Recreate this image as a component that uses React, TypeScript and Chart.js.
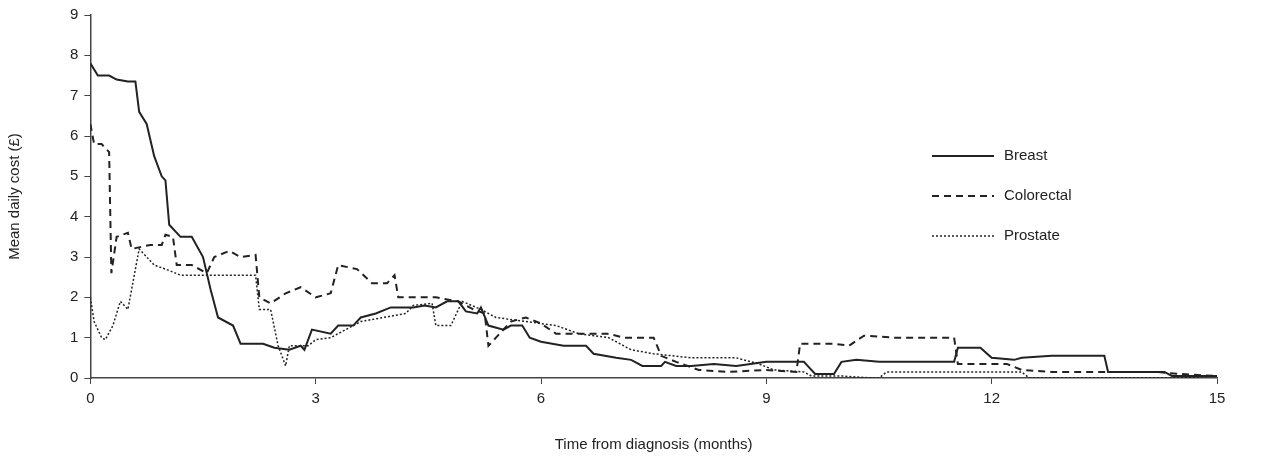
import { useEffect, useRef } from 'react';
import { Chart, registerables } from 'chart.js';

Chart.register(...registerables);

const breastX = [0, 0.1, 0.25, 0.35, 0.5, 0.6, 0.65, 0.75, 0.85, 0.95, 1.0, 1.05, 1.2, 1.35, 1.5, 1.6, 1.7, 1.9, 2.0, 2.3, 2.45, 2.65, 2.8, 2.85, 2.95, 3.2, 3.3, 3.5, 3.6, 3.8, 4.0, 4.3, 4.45, 4.6, 4.75, 4.9, 5.0, 5.15, 5.2, 5.3, 5.5, 5.6, 5.75, 5.85, 6.0, 6.3, 6.6, 6.7, 7.0, 7.2, 7.35, 7.6, 7.65, 7.8, 8.0, 8.3, 8.6, 9.0, 9.5, 9.55, 9.65, 9.9, 10.0, 10.2, 10.5, 11.0, 11.5, 11.55, 11.85, 12.0, 12.3, 12.4, 12.8, 13.5, 13.55, 14.3, 14.4, 15];
const breastY = [7.8, 7.5, 7.5, 7.4, 7.35, 7.35, 6.6, 6.3, 5.5, 5.0, 4.9, 3.8, 3.5, 3.5, 3.0, 2.2, 1.5, 1.3, 0.85, 0.85, 0.75, 0.7, 0.8, 0.7, 1.2, 1.1, 1.3, 1.3, 1.5, 1.6, 1.75, 1.75, 1.8, 1.75, 1.9, 1.9, 1.65, 1.6, 1.75, 1.3, 1.2, 1.3, 1.3, 1.0, 0.9, 0.8, 0.8, 0.6, 0.5, 0.45, 0.3, 0.3, 0.4, 0.3, 0.3, 0.35, 0.3, 0.4, 0.4, 0.3, 0.1, 0.1, 0.4, 0.45, 0.4, 0.4, 0.4, 0.75, 0.75, 0.5, 0.45, 0.5, 0.55, 0.55, 0.15, 0.15, 0.05, 0.05];

const colorectalX = [0, 0.05, 0.15, 0.25, 0.28, 0.35, 0.5, 0.55, 0.8, 0.95, 1.0, 1.1, 1.15, 1.35, 1.55, 1.65, 1.85, 2.0, 2.2, 2.25, 2.4, 2.6, 2.8, 3.0, 3.2, 3.3, 3.55, 3.75, 3.95, 4.05, 4.1, 4.6, 4.9, 5.1, 5.25, 5.3, 5.4, 5.6, 5.8, 6.0, 6.2, 6.9, 7.1, 7.5, 7.6, 7.8, 8.1, 8.5, 9.0, 9.4, 9.45, 9.9, 10.1, 10.3, 10.7, 11.5, 11.55, 12.2, 12.4, 12.8, 14.2, 14.5, 15];
const colorectalY = [6.3, 5.8, 5.8, 5.6, 2.6, 3.5, 3.6, 3.2, 3.3, 3.3, 3.55, 3.5, 2.8, 2.8, 2.6, 3.0, 3.15, 3.0, 3.05, 2.0, 1.85, 2.1, 2.25, 2.0, 2.1, 2.8, 2.7, 2.35, 2.35, 2.55, 2.0, 2.0, 1.9, 1.7, 1.6, 0.8, 1.0, 1.4, 1.5, 1.35, 1.1, 1.1, 1.0, 1.0, 0.55, 0.4, 0.2, 0.15, 0.2, 0.15, 0.85, 0.85, 0.8, 1.05, 1.0, 1.0, 0.35, 0.35, 0.2, 0.15, 0.15, 0.1, 0.05];

const prostateX = [0, 0.05, 0.15, 0.2, 0.3, 0.4, 0.5, 0.65, 0.85, 1.0, 1.2, 1.5, 2.2, 2.25, 2.4, 2.5, 2.6, 2.65, 2.9, 3.0, 3.2, 3.4, 3.6, 3.9, 4.2, 4.3, 4.55, 4.6, 4.8, 4.95, 5.2, 5.4, 5.8, 6.2, 6.5, 6.9, 7.2, 7.5, 8.0, 8.6, 8.9, 9.1, 9.5, 9.6, 10.0, 10.4, 10.5, 10.6, 11.8, 12.4, 12.5, 14.5, 15];
const prostateY = [2.0, 1.4, 1.0, 0.95, 1.3, 1.9, 1.7, 3.2, 2.8, 2.7, 2.55, 2.55, 2.55, 1.7, 1.7, 0.8, 0.3, 0.8, 0.8, 0.95, 1.0, 1.2, 1.4, 1.5, 1.6, 1.8, 1.85, 1.3, 1.3, 1.9, 1.7, 1.5, 1.4, 1.3, 1.1, 1.0, 0.7, 0.6, 0.5, 0.5, 0.35, 0.2, 0.15, 0.05, 0.05, 0.0, 0.0, 0.15, 0.15, 0.15, 0.0, 0.0, 0.05];

const seriesNames = ['Breast', 'Colorectal', 'Prostate'];
const seriesDash = [[], [7, 5], [2, 2]];

const toPoints = (xs: number[], ys: number[]) => xs.map((x, i) => ({ x, y: ys[i] }));

const legendPlugin = {
  id: 'insideLegend',
  afterDraw(chart: any) {
    const ctx = chart.ctx;
    ctx.save();
    ctx.font = '15px "Liberation Sans", Arial, sans-serif';
    ctx.fillStyle = '#222';
    ctx.textBaseline = 'middle';
    seriesNames.forEach((name, i) => {
      const y = 156 + i * 40;
      ctx.beginPath();
      ctx.setLineDash(seriesDash[i]);
      ctx.lineWidth = i === 2 ? 1.5 : 2;
      ctx.strokeStyle = '#222';
      ctx.moveTo(932, y);
      ctx.lineTo(994, y);
      ctx.stroke();
      ctx.fillText(name, 1004, y);
    });
    ctx.restore();
  },
};

export default function App() {
  const chartRef = useRef<HTMLCanvasElement>(null);
  const chartInstance = useRef<Chart | null>(null);

  useEffect(() => {
    if (!chartRef.current) return;
    if (chartInstance.current) chartInstance.current.destroy();

    const allY = [breastY, colorectalY, prostateY];
    const allX = [breastX, colorectalX, prostateX];

    chartInstance.current = new Chart(chartRef.current, {
      type: 'line',
      data: {
        datasets: seriesNames.map((name, i) => ({
          label: name,
          data: toPoints(allX[i], allY[i]),
          borderColor: '#222',
          borderWidth: i === 2 ? 1.5 : 2,
          borderDash: seriesDash[i],
          pointRadius: 0,
          tension: 0,
          fill: false,
        })),
      },
      options: {
        animation: false,
        responsive: false,
        layout: { padding: { top: 10, right: 62, bottom: 10, left: 6 } },
        plugins: { legend: { display: false }, tooltip: { enabled: false } },
        scales: {
          x: {
            type: 'linear',
            min: 0,
            max: 15,
            ticks: { stepSize: 3, color: '#222', font: { size: 15, family: '"Liberation Sans", Arial' }, padding: 6 },
            grid: { drawOnChartArea: false, tickLength: 6, color: '#444' },
            border: { color: '#444', width: 1.5 },
            title: { display: true, text: 'Time from diagnosis (months)', color: '#222', font: { size: 15, family: '"Liberation Sans", Arial' }, padding: { top: 22 } },
          },
          y: {
            min: 0,
            max: 9,
            ticks: { stepSize: 1, color: '#222', font: { size: 15, family: '"Liberation Sans", Arial' }, padding: 6 },
            grid: { drawOnChartArea: false, tickLength: 6, color: '#444' },
            border: { color: '#444', width: 1.5 },
            title: { display: true, text: 'Mean daily cost (£)', color: '#222', font: { size: 15, family: '"Liberation Sans", Arial' }, padding: { top: 0, bottom: 40 } },
          },
        },
      },
      plugins: [legendPlugin],
    });

    return () => {
      if (chartInstance.current) chartInstance.current.destroy();
    };
  }, []);

  return (
    <div style={{ position: 'fixed', left: 0, top: 0, width: 1279, height: 468, background: '#fff' }}>
      <canvas ref={chartRef} width={1279} height={468} />
    </div>
  );
}
